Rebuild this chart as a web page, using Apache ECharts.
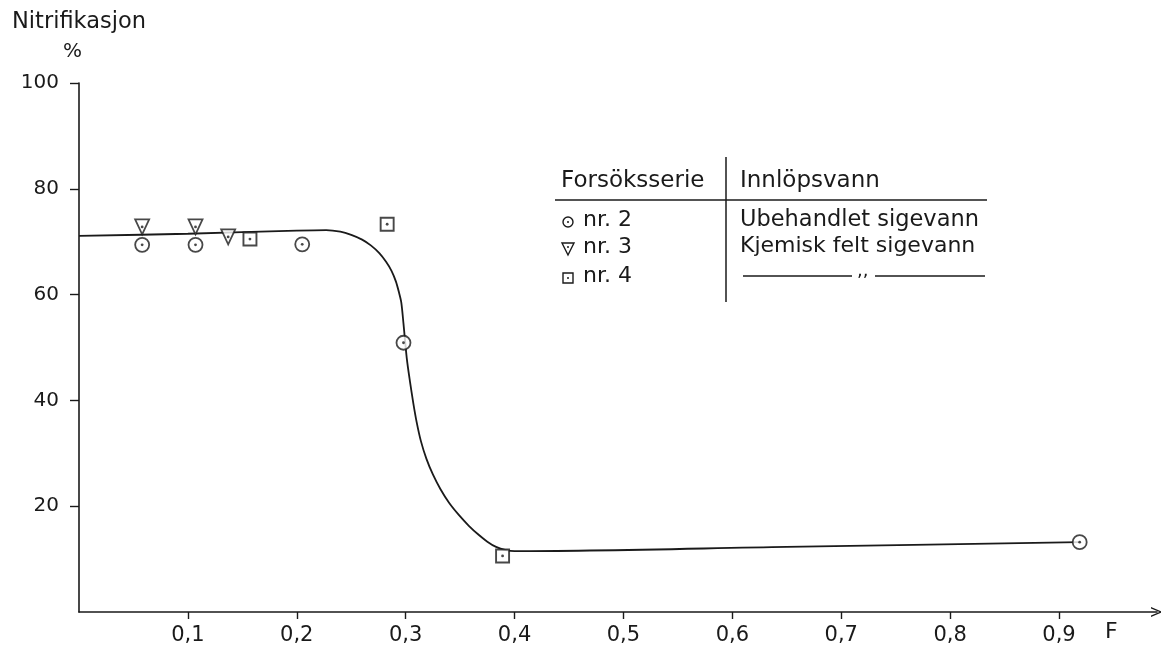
<!DOCTYPE html>
<html>
<head>
<meta charset="utf-8">
<script src="https://cdn.jsdelivr.net/npm/echarts@6/dist/echarts.min.js"></script>
<style>
html,body{margin:0;padding:0;background:#fff;}
#c{width:1161px;height:652px;}
</style>
</head>
<body>
<div id="c"></div>
<script>
// ---- data ----
const xTicks = [0.1, 0.2, 0.3, 0.4, 0.5, 0.6, 0.7, 0.8, 0.9];
const yTicks = [20, 40, 60, 80, 100];

// Forsøksserie nr. 2 (circles)
const nr2F = [0.058, 0.107, 0.205, 0.298, 0.919];
const nr2N = [69.4, 69.4, 69.5, 50.9, 13.2];
// Forsøksserie nr. 3 (triangles)
const nr3F = [0.058, 0.107, 0.137];
const nr3N = [72.8, 72.8, 70.9];
// Forsøksserie nr. 4 (squares)
const nr4F = [0.157, 0.283, 0.389];
const nr4N = [70.5, 73.3, 10.6];

// hand-drawn fitted curve
const curveF = [0, 0.1, 0.2, 0.227, 0.24, 0.25, 0.26, 0.268, 0.276, 0.282, 0.287, 0.291, 0.294, 0.296, 0.298, 0.301, 0.304, 0.307, 0.310, 0.314, 0.319, 0.325, 0.332, 0.340, 0.349, 0.358, 0.367, 0.375, 0.383, 0.392, 0.40, 0.65, 0.919];
const curveN = [71.1, 71.5, 72.1, 72.2, 71.9, 71.3, 70.4, 69.3, 67.8, 66.2, 64.5, 62.5, 60.3, 58.5, 54.5, 48.0, 43.5, 39.5, 36.0, 32.3, 29.0, 26.0, 23.2, 20.6, 18.3, 16.3, 14.6, 13.3, 12.3, 11.7, 11.5, 12.3, 13.2];

const legendRows = ['nr. 2', 'nr. 3', 'nr. 4'];
const legendWater = ['Ubehandlet sigevann', 'Kjemisk felt sigevann'];
const legendHead = ['Forsöksserie', 'Innlöpsvann'];

const zip = (a, b) => a.map((v, i) => [v, b[i]]);
const FONT = 'DejaVu Sans';
const INK = '#1a1a1a';

const chart = echarts.init(document.getElementById('c'), null, {renderer: 'canvas'});

function dotSeries(data, z) {
  return {
    type: 'scatter', data: data, symbol: 'circle', symbolSize: 2.8,
    itemStyle: {color: INK}, z: z, silent: true
  };
}

const option = {
  backgroundColor: '#fff',
  animation: false,
  grid: {left: 79, right: 4, top: 83, bottom: 40},
  xAxis: {
    type: 'value', min: 0, max: 0.99,
    splitLine: {show: false},
    axisLine: {show: true, symbol: ['none', 'path://M0,12 L5,0 L10,12 L8.4,12 L5,3.5 L1.6,12 Z'], symbolSize: [10, 13], lineStyle: {color: INK, width: 1.6}},
    axisTick: {show: true, length: 7, customValues: xTicks, lineStyle: {color: INK, width: 1.4}},
    axisLabel: {
      customValues: xTicks, margin: 13, color: INK, fontFamily: FONT, fontSize: 21,
      formatter: v => v.toFixed(1).replace('.', ',')
    }
  },
  yAxis: {
    type: 'value', min: 0, max: 100,
    splitLine: {show: false},
    axisLine: {show: true, lineStyle: {color: INK, width: 1.6}},
    axisTick: {show: true, length: 9, customValues: yTicks, lineStyle: {color: INK, width: 1.4}},
    axisLabel: {customValues: yTicks, margin: 20, color: INK, fontFamily: FONT, fontSize: 20}
  },
  series: [
    {
      type: 'line', data: zip(curveF, curveN), smooth: 0.3,
      showSymbol: false, lineStyle: {color: INK, width: 1.8}, z: 2, silent: true
    },
    {
      type: 'scatter', data: zip(nr2F, nr2N), symbol: 'circle', symbolSize: 14,
      itemStyle: {color: '#fff', borderColor: INK, borderWidth: 1.8}, z: 3
    },
    {
      type: 'scatter', data: zip(nr3F, nr3N), symbol: 'triangle', symbolRotate: 180, symbolSize: [14, 15],
      itemStyle: {color: '#fff', borderColor: INK, borderWidth: 1.8}, z: 3
    },
    {
      type: 'scatter', data: zip(nr4F, nr4N), symbol: 'rect', symbolSize: 13,
      itemStyle: {color: '#fff', borderColor: INK, borderWidth: 1.9}, z: 3
    },
    dotSeries(zip(nr2F, nr2N), 4),
    dotSeries(zip(nr3F, nr3N), 4),
    dotSeries(zip(nr4F, nr4N), 4)
  ],
  graphic: [
    // axis titles
    {type: 'text', left: 12, top: 11, style: {text: 'Nitrifikasjon', fontFamily: FONT, fontSize: 22.5, fill: INK}},
    {type: 'text', left: 63, top: 42, style: {text: '%', fontFamily: FONT, fontSize: 20, fill: INK}},
    {type: 'text', left: 1105, top: 621, style: {text: 'F', fontFamily: FONT, fontSize: 22, fill: INK}},
    // legend table
    {type: 'text', left: 561, top: 170, style: {text: legendHead[0], fontFamily: FONT, fontSize: 23, fill: INK}},
    {type: 'text', left: 740, top: 170, style: {text: legendHead[1], fontFamily: FONT, fontSize: 23, fill: INK}},
    {type: 'line', shape: {x1: 726, y1: 157, x2: 726, y2: 302}, style: {stroke: INK, lineWidth: 1.5}},
    {type: 'line', shape: {x1: 555, y1: 200, x2: 987, y2: 200}, style: {stroke: INK, lineWidth: 1.5}},
    {type: 'circle', shape: {cx: 568, cy: 222, r: 5}, style: {fill: '#fff', stroke: INK, lineWidth: 1.4}},
    {type: 'circle', shape: {cx: 568, cy: 222, r: 1}, style: {fill: INK}},
    {type: 'polygon', shape: {points: [[562, 243], [574, 243], [568, 255]]}, style: {fill: '#fff', stroke: INK, lineWidth: 1.4}},
    {type: 'circle', shape: {cx: 568, cy: 247, r: 1}, style: {fill: INK}},
    {type: 'rect', shape: {x: 563, y: 273, width: 10, height: 10}, style: {fill: '#fff', stroke: INK, lineWidth: 1.4}},
    {type: 'circle', shape: {cx: 568, cy: 278, r: 1}, style: {fill: INK}},
    {type: 'text', left: 583, top: 209, style: {text: legendRows[0], fontFamily: FONT, fontSize: 22, fill: INK}},
    {type: 'text', left: 583, top: 236, style: {text: legendRows[1], fontFamily: FONT, fontSize: 22, fill: INK}},
    {type: 'text', left: 583, top: 265, style: {text: legendRows[2], fontFamily: FONT, fontSize: 22, fill: INK}},
    {type: 'text', left: 740, top: 209, style: {text: legendWater[0], fontFamily: FONT, fontSize: 22.5, fill: INK}},
    {type: 'text', left: 740, top: 235, style: {text: legendWater[1], fontFamily: FONT, fontSize: 22, fill: INK}},
    {type: 'line', shape: {x1: 743, y1: 276, x2: 852, y2: 276}, style: {stroke: INK, lineWidth: 1.4}},
    {type: 'text', left: 857, top: 262, style: {text: ',,', fontFamily: FONT, fontSize: 18, fill: INK}},
    {type: 'line', shape: {x1: 875, y1: 276, x2: 985, y2: 276}, style: {stroke: INK, lineWidth: 1.4}}
  ]
};
chart.setOption(option);
</script>
</body>
</html>
